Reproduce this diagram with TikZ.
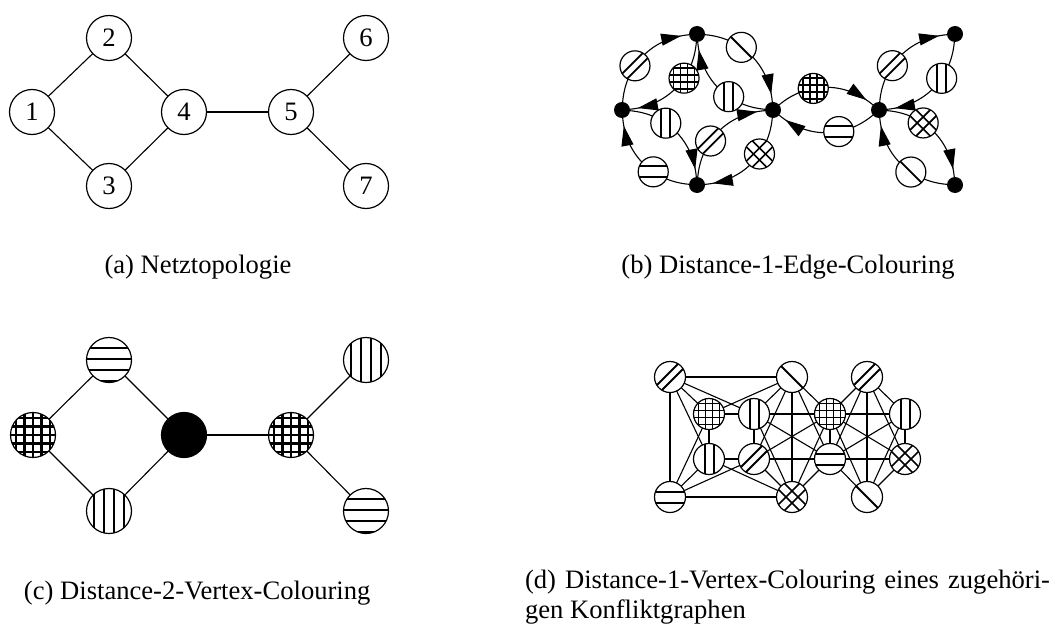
\documentclass[tikz,border=0pt]{standalone}
\usepackage{fontspec}
\setmainfont{Liberation Serif}
\usetikzlibrary{arrows.meta,decorations.markings}
\begin{document}
\begin{tikzpicture}[x=0.5pt,y=-0.5pt,
  every node/.style={inner sep=0pt, outer sep=0pt},
  lnk/.style={line width=0.55pt},
  big/.style={circle, draw, line width=0.6pt, minimum size=22.5pt, fill=white},
  num/.style={big, font=\fontsize{13.3}{16}\selectfont},
  dot/.style={circle, fill=black, minimum size=8pt},
  sm/.style={circle, draw, line width=0.6pt, minimum size=15pt, fill=white},
  cf/.style={circle, draw, line width=0.6pt, minimum size=15.5pt, fill=white},
  capt/.style={font=\fontsize{13.3}{16}\selectfont},
  darc/.style={line width=0.55pt, postaction={decorate},
    decoration={markings, mark=at position -4pt with {\arrow{Triangle[length=10pt,width=6pt]}}}},
  hs/.style 2 args={path picture={\foreach \o in {#1}{\draw[line width=#2] (path picture bounding box.center) ++(-30,\o) -- ++(60,0);}}},
  vs/.style 2 args={path picture={\foreach \o in {#1}{\draw[line width=#2] (path picture bounding box.center) ++(\o,-30) -- ++(0,60);}}},
  gr/.style 2 args={path picture={\foreach \o in {#1}{\draw[line width=#2] (path picture bounding box.center) ++(-30,\o) -- ++(60,0); \draw[line width=#2] (path picture bounding box.center) ++(\o,-30) -- ++(0,60);}}},
  dn/.style 2 args={path picture={\foreach \o in {#1}{\draw[line width=#2] (path picture bounding box.center) ++(-30+\o,30+\o) -- ++(60,-60);}}},
  dw/.style 2 args={path picture={\foreach \o in {#1}{\draw[line width=#2] (path picture bounding box.center) ++(-30+\o,-30-\o) -- ++(60,60);}}},
  ch/.style 2 args={path picture={\foreach \o in {#1}{\draw[line width=#2] (path picture bounding box.center) ++(-30+\o,30+\o) -- ++(60,-60); \draw[line width=#2] (path picture bounding box.center) ++(-30+\o,-30-\o) -- ++(60,60);}}},
  pH/.style={hs={-5.5,5.5}{1pt}},
  pV/.style={vs={-4.5,4.5}{1pt}},
  pG/.style={gr={-10.5,-3.5,3.5,10.5}{0.9pt}},
  pD/.style={dn={-2.5,2.5}{0.9pt}},
  pB/.style={dw={0}{0.9pt}},
  pX/.style={ch={-3,3}{0.8pt}},
  qH/.style={hs={-23,-12,-1,10,21}{1.1pt}},
  qV/.style={vs={-15,-5,5,15}{1.1pt}},
  qG/.style={gr={-17,-8.5,0,8.5,17}{1.1pt}},
  qS/.style={fill=black}
]
\useasboundingbox (0,0) rectangle (1059,626);

% (a) Netztopologie
\node[num] (a1) at (32,112) {1};
\node[num] (a2) at (109,38) {2};
\node[num] (a3) at (109,186) {3};
\node[num] (a4) at (184,112) {4};
\node[num] (a5) at (291,112) {5};
\node[num] (a6) at (366,38) {6};
\node[num] (a7) at (366,186) {7};
\foreach \u/\v in {1/2,1/3,2/4,3/4,4/5,5/6,5/7} \draw[lnk] (a\u) -- (a\v);
\node[capt, anchor=base] (capa) at (198,273) {(a) Netztopologie};

% (b) Distance-1-Edge-Colouring
\node[dot] (b1) at (622,110) {};
\node[dot] (b2) at (697,34) {};
\node[dot] (b3) at (697,185) {};
\node[dot] (b4) at (773,110) {};
\node[dot] (b5) at (879,110) {};
\node[dot] (b6) at (955,34) {};
\node[dot] (b7) at (955,185) {};
\foreach \s/\t/\p in {1/2/pD, 2/1/pG, 2/4/pB, 4/2/pV, 1/3/pV, 3/1/pH, 3/4/pD, 4/3/pX,
                      4/5/pG, 5/4/pH, 5/6/pD, 6/5/pV, 5/7/pX, 7/5/pB}
  \draw[darc] (b\s) to[bend left=40] node[sm, \p, pos=0.37] (e\s\t) {} (b\t);
\node[capt, anchor=base] (capb) at (788,273) {(b) Distance-1-Edge-Colouring};

% (c) Distance-2-Vertex-Colouring
\node[big, qG] (c1) at (33,435) {};
\node[big, qH] (c2) at (109,360) {};
\node[big, qV] (c3) at (109,511) {};
\node[big, qS] (c4) at (184,435) {};
\node[big, qG] (c5) at (291,435) {};
\node[big, qV] (c6) at (366,360) {};
\node[big, qH] (c7) at (366,511) {};
\foreach \u/\v in {1/2,1/3,2/4,3/4,4/5,5/6,5/7} \draw[lnk] (c\u) -- (c\v);
\node[capt, anchor=base west] (capc) at (24,599) {(c) Distance-2-Vertex-Colouring};

% (d) Konfliktgraph
\node[cf, pD] (dA) at (670,377) {};
\node[cf, pG] (dB) at (709,414) {};
\node[cf, pV] (dC) at (754,414) {};
\node[cf, pB] (dD) at (792,377) {};
\node[cf, pV] (dE) at (709,459) {};
\node[cf, pD] (dF) at (754,459) {};
\node[cf, pH] (dG) at (670,497) {};
\node[cf, pX] (dH) at (792,497) {};
\node[cf, pG] (dI) at (830,414) {};
\node[cf, pH] (dJ) at (830,459) {};
\node[cf, pD] (dK) at (867,377) {};
\node[cf, pV] (dL) at (905,414) {};
\node[cf, pX] (dM) at (905,459) {};
\node[cf, pB] (dN) at (867,497) {};
\foreach \u/\v in {A/B,A/E,A/G,B/E,B/G,E/G,
                   A/C,A/D,B/C,B/D,C/D,
                   E/F,E/H,G/F,G/H,F/H,
                   C/F,C/H,C/I,C/J,D/F,D/H,D/I,D/J,F/I,F/J,H/I,H/J,I/J,
                   I/K,I/L,I/M,I/N,J/K,J/L,J/M,J/N,K/L,K/M,K/N,L/M,L/N,M/N}
  \draw[lnk] (d\u) -- (d\v);
\node[capt, anchor=base west] (capd1) at (525,588) {\makebox[262.5pt][s]{(d) Distance-1-Vertex-Colouring eines zugehöri-}};
\node[capt, anchor=base west] (capd2) at (525,618) {gen Konfliktgraphen};
\end{tikzpicture}
\end{document}
